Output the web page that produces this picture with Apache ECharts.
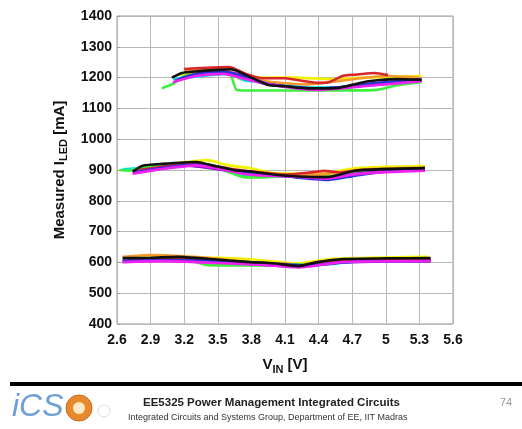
<!DOCTYPE html>
<html>
<head>
<meta charset="utf-8">
<script src="https://cdn.jsdelivr.net/npm/echarts@6/dist/echarts.min.js"></script>
<style>
  html, body { margin: 0; padding: 0; background: #fff; }
  #chart { width: 522px; height: 429px; }
</style>
</head>
<body>
<div id="chart"></div>
<script>
// V_IN tick range / I_LED tick range
const xTicks = [2.6, 2.9, 3.2, 3.5, 3.8, 4.1, 4.4, 4.7, 5, 5.3, 5.6];
const yTicks = [400, 500, 600, 700, 800, 900, 1000, 1100, 1200, 1300, 1400];

// measured curves, [V_IN, I_LED mA], one array per colour per current setting
const yellowHi = [[3.15,1210],[3.4,1220],[3.6,1222],[3.7,1195],[3.9,1200],[4.2,1200],[4.5,1195],[4.8,1200],[5.32,1205]];
const yellowMid = [[2.8,905],[3.1,920],[3.4,932],[3.6,915],[3.79,906],[4.0,890],[4.45,888],[4.6,898],[4.74,906],[5.0,910],[5.35,913]];
const yellowLo = [[2.8,616],[3.5,615],[3.8,610],[4.2,597],[4.5,611],[5.0,616],[5.38,618]];

const cyanHi = [[3.1,1195],[3.6,1212],[3.75,1190],[3.95,1185],[4.3,1168],[4.7,1170],[5.32,1192]];
const cyanMid = [[2.65,902],[3.0,912],[3.4,918],[3.7,882],[4.0,880],[4.5,875],[4.8,895],[5.35,902]];
const cyanLo = [[2.7,610],[3.3,608],[3.7,600],[4.0,597],[4.3,590],[4.5,594],[4.7,602],[5.4,608]];

const greenHi = [[3.0,1165],[3.1,1180],[3.2,1205],[3.4,1215],[3.6,1218],[3.67,1160],[3.9,1158],[4.5,1158],[4.92,1160],[5.1,1175],[5.32,1186]];
const greenMid = [[2.62,900],[2.7,898],[2.85,910],[3.1,918],[3.35,922],[3.55,900],[3.75,876],[3.95,877],[4.1,882],[4.5,880],[4.75,898],[5.35,905]];
const greenLo = [[2.7,608],[3.2,610],[3.4,592],[3.8,590],[4.1,592],[4.3,595],[4.6,606],[5.4,610]];

const orangeHi = [[3.2,1222],[3.6,1230],[3.9,1190],[4.3,1178],[4.6,1190],[5.0,1205],[5.3,1200]];
const orangeMid = [[2.8,898],[3.3,920],[3.6,902],[3.85,885],[4.4,885],[4.8,902],[5.35,908]];
const orangeLo = [[2.65,618],[2.9,624],[3.2,620],[3.5,612],[3.8,600],[4.1,596],[4.22,590],[4.4,602],[4.7,610],[5.4,612]];

const redHi = [[3.2,1228],[3.4,1232],[3.6,1234],[3.75,1212],[3.9,1198],[4.1,1198],[4.25,1190],[4.4,1183],[4.5,1186],[4.62,1206],[4.75,1210],[4.9,1215],[5.02,1208]];
const redMid = [[2.8,900],[3.1,915],[3.3,922],[3.6,905],[3.85,893],[4.1,885],[4.35,893],[4.45,897],[4.6,892],[4.8,900],[5.35,905]];
const redLo = [[2.7,612],[3.2,614],[3.5,608],[3.8,598],[4.22,588],[4.5,604],[5.4,610]];

const purpleHi = [[3.12,1190],[3.3,1212],[3.55,1220],[3.7,1210],[3.95,1180],[4.4,1163],[4.8,1178],[5.32,1195]];
const purpleMid = [[2.74,892],[3.2,915],[3.6,898],[3.9,888],[4.4,872],[4.8,890],[5.35,902]];
const purpleLo = [[2.65,602],[3.1,607],[3.5,602],[4.22,586],[4.6,600],[5.4,605]];

const blueHi = [[3.15,1195],[3.3,1210],[3.55,1218],[3.7,1205],[3.95,1178],[4.4,1165],[4.7,1172],[5.0,1185],[5.32,1190]];
const blueMid = [[2.76,892],[3.0,905],[3.3,918],[3.6,900],[3.8,890],[4.1,880],[4.48,868],[4.7,880],[5.0,895],[5.35,900]];
const blueLo = [[2.65,606],[3.2,606],[3.5,605],[3.8,600],[4.3,590],[4.7,602],[5.4,604]];

const magentaHi = [[3.1,1185],[3.3,1205],[3.55,1212],[3.75,1195],[3.95,1178],[4.4,1160],[4.8,1172],[5.32,1188]];
const magentaMid = [[2.74,888],[2.98,902],[3.31,915],[3.5,905],[3.72,888],[3.9,882],[4.2,878],[4.48,872],[4.7,885],[5.0,893],[5.35,898]];
const magentaLo = [[2.65,601],[3.0,604],[3.5,598],[3.9,592],[4.22,584],[4.5,596],[4.65,602],[5.4,604]];

const blackHi = [[3.09,1200],[3.18,1215],[3.3,1220],[3.5,1225],[3.62,1227],[3.8,1200],[3.95,1176],[4.1,1172],[4.3,1165],[4.45,1165],[4.6,1168],[4.8,1185],[4.95,1192],[5.1,1195],[5.32,1193]];
const blackMid = [[2.74,895],[2.83,914],[3.0,920],[3.31,926],[3.45,915],[3.64,900],[3.8,895],[4.03,884],[4.3,878],[4.48,877],[4.6,886],[4.71,897],[4.97,903],[5.35,906]];
const blackLo = [[2.65,614],[2.9,615],[3.14,618],[3.43,611],[3.6,606],[3.79,601],[4.0,597],[4.22,588],[4.39,601],[4.62,611],[5.0,613],[5.4,614]];

const curves = [
    { color: '#f2f200', sets: [yellowHi, yellowMid, yellowLo] },
    { color: '#00e5e5', sets: [cyanHi, cyanMid, cyanLo] },
    { color: '#3cf03c', sets: [greenHi, greenMid, greenLo] },
    { color: '#f39a2a', sets: [orangeHi, orangeMid, orangeLo] },
    { color: '#d8262a', sets: [redHi, redMid, redLo] },
    { color: '#7a1fc8', sets: [purpleHi, purpleMid, purpleLo] },
    { color: '#2433e0', sets: [blueHi, blueMid, blueLo] },
    { color: '#f020f0', sets: [magentaHi, magentaMid, magentaLo] },
    { color: '#111111', sets: [blackHi, blackMid, blackLo] }
];

const FONT = '"Liberation Sans", Arial, sans-serif';

const chart = echarts.init(document.getElementById('chart'));

const series = [];
curves.forEach(function (c) {
    c.sets.forEach(function (d) {
        series.push({
            type: 'line',
            data: d,
            showSymbol: false,
            smooth: 0.2,
            silent: true,
            lineStyle: { color: c.color, width: 2.6 },
            itemStyle: { color: c.color }
        });
    });
});

const option = {
    backgroundColor: '#ffffff',
    animation: false,
    grid: {
        left: 117, right: 69, top: 16, bottom: 105,
        show: true, borderColor: '#9a9a9a', borderWidth: 1
    },
    xAxis: {
        type: 'value',
        min: xTicks[0], max: xTicks[xTicks.length - 1], interval: 0.3,
        name: '{a|V}{s|IN}{a| [V]}',
        nameLocation: 'middle',
        nameGap: 30,
        nameTextStyle: {
            rich: {
                a: { fontFamily: FONT, fontWeight: 'bold', fontSize: 15, color: '#111' },
                s: { fontFamily: FONT, fontWeight: 'bold', fontSize: 11, color: '#111', padding: [10, 0, 0, 0] }
            }
        },
        axisLine: { show: false },
        axisTick: { show: false },
        axisLabel: {
            fontFamily: FONT, fontWeight: 'bold', fontSize: 14, color: '#111', margin: 9,
            formatter: function (v) { return String(Math.round(v * 10) / 10); }
        },
        splitLine: { show: true, lineStyle: { color: '#b8b8b8', width: 1 } }
    },
    yAxis: {
        type: 'value',
        min: yTicks[0], max: yTicks[yTicks.length - 1], interval: 100,
        name: '{a|Measured I}{s|LED}{a| [mA]}',
        nameLocation: 'middle',
        nameGap: 45,
        nameRotate: 90,
        nameTextStyle: {
            rich: {
                a: { fontFamily: FONT, fontWeight: 'bold', fontSize: 15, color: '#111' },
                s: { fontFamily: FONT, fontWeight: 'bold', fontSize: 11, color: '#111', padding: [10, 0, 0, 0] }
            }
        },
        axisLine: { show: false },
        axisTick: { show: true, length: 3, inside: true, lineStyle: { color: '#9a9a9a' } },
        axisLabel: {
            fontFamily: FONT, fontWeight: 'bold', fontSize: 14, color: '#111', margin: 5,
            formatter: function (v) { return String(v); }
        },
        splitLine: { show: true, lineStyle: { color: '#b8b8b8', width: 1 } }
    },
    graphic: [
        { type: 'rect', shape: { x: 10, y: 382, width: 512, height: 4 }, style: { fill: '#000' } },
        {
            type: 'text', left: 12, top: 391,
            style: { text: 'iCS', fontFamily: FONT, fontStyle: 'italic', fontSize: 32, fill: '#6f9fd6' }
        },
        { type: 'circle', shape: { cx: 79, cy: 408, r: 13 }, style: { fill: '#e98a2a', stroke: '#c7642a', lineWidth: 1 } },
        { type: 'circle', shape: { cx: 79, cy: 408, r: 6 }, style: { fill: '#fbe9c8' } },
        { type: 'circle', shape: { cx: 104, cy: 411, r: 6 }, style: { fill: 'none', stroke: '#dddddd', lineWidth: 1 } },
        {
            type: 'text', left: 143, top: 397,
            style: { text: 'EE5325 Power Management Integrated Circuits', fontFamily: FONT, fontWeight: 'bold', fontSize: 11.5, fill: '#222' }
        },
        {
            type: 'text', left: 128, top: 413,
            style: { text: 'Integrated Circuits and Systems Group, Department of EE, IIT Madras', fontFamily: FONT, fontSize: 9, fill: '#333' }
        },
        {
            type: 'text', left: 500, top: 397,
            style: { text: '74', fontFamily: FONT, fontSize: 11, fill: '#999' }
        }
    ],
    series: series
};

chart.setOption(option);
</script>
</body>
</html>
